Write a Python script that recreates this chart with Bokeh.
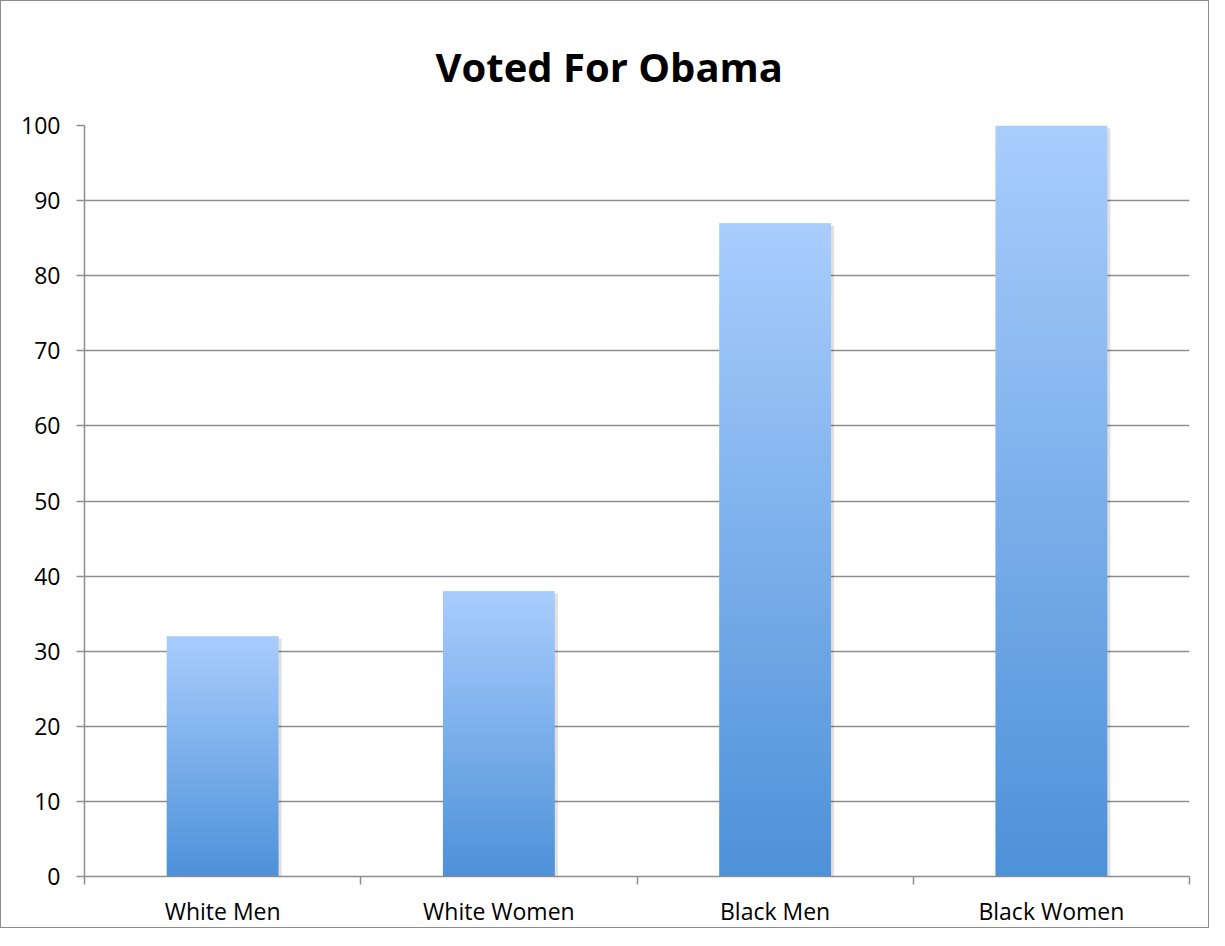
import numpy as np
from bokeh.plotting import figure
from bokeh.models import Range1d, FixedTicker
from bokeh.embed import file_html
from bokeh.resources import INLINE

# ---- data ----
categories = ["White Men", "White Women", "Black Men", "Black Women"]
values = [32, 38, 87, 100]
y_ticks = [0, 10, 20, 30, 40, 50, 60, 70, 80, 90, 100]
title_text = "Voted For Obama"

# ---- style ----
TOP_COLOR = (0xA9, 0xCD, 0xFD)
BOTTOM_COLOR = (0x4D, 0x91, 0xD8)
GRID = "#8e8e8e"
FONT = "Open Sans"
BAR_W = 0.405
ROWS = 400

centers = [i + 0.5 for i in range(len(categories))]

p = figure(
    width=1209, height=928,
    x_range=Range1d(0, len(categories)), y_range=Range1d(0, 100),
    output_backend="svg", toolbar_location=None,
    min_border_left=83, min_border_right=21, min_border_top=124, min_border_bottom=51,
    title=title_text,
)
p.styles = {"border": "1px solid #8c8c8c"}
p.outline_line_color = None
p.background_fill_color = "white"
p.border_fill_color = "white"

p.title.text_font = FONT
p.title.text_font_size = "40px"
p.title.text_font_style = "bold"
p.title.align = "left"
p.title.text_color = "black"
p.title.standoff = 64
p.title.offset = 351

# shadow
sl, sr, st = [], [], []
for c, v in zip(centers, values):
    sl.append(c - BAR_W / 2 + 0.006)
    sr.append(c + BAR_W / 2 + 0.011)
    st.append(v - 0.35)
p.quad(left=sl, right=sr, top=st, bottom=[0] * len(st), fill_color="#000000",
       fill_alpha=0.12, line_color=None)

# gradient (bottom row first = darkest)
t = (np.arange(ROWS) + 0.5) / ROWS
grad = np.zeros((ROWS, 1), dtype=np.uint32)
view = grad.view(dtype=np.uint8).reshape((ROWS, 1, 4))
for k in range(3):
    view[:, 0, k] = np.round(BOTTOM_COLOR[k] + (TOP_COLOR[k] - BOTTOM_COLOR[k]) * t).astype(np.uint8)
view[:, 0, 3] = 255

p.image_rgba(
    image=[grad] * len(values),
    x=[c - BAR_W / 2 for c in centers],
    y=[0] * len(values),
    dw=[BAR_W] * len(values),
    dh=values,
)

# y axis
p.yaxis.ticker = FixedTicker(ticks=y_ticks)
p.yaxis.major_tick_in = 0
p.yaxis.major_tick_out = 8
p.yaxis.minor_tick_line_color = None
p.yaxis.axis_line_color = GRID
p.yaxis.axis_line_width = 1.5
p.yaxis.major_tick_line_color = GRID
p.yaxis.major_tick_line_width = 1.5
p.yaxis.major_label_text_font = FONT
p.yaxis.major_label_text_font_size = "23px"
p.yaxis.major_label_text_color = "black"
p.yaxis.major_label_standoff = 16

# x axis: labels at centres, ticks at boundaries
p.xaxis.ticker = FixedTicker(ticks=centers, minor_ticks=list(range(len(categories) + 1)))
p.xaxis.major_label_overrides = {c: name for c, name in zip(centers, categories)}
p.xaxis.major_tick_line_color = None
p.xaxis.major_tick_in = 0
p.xaxis.major_tick_out = 0
p.xaxis.minor_tick_in = 0
p.xaxis.minor_tick_out = 8
p.xaxis.minor_tick_line_color = GRID
p.xaxis.minor_tick_line_width = 1.5
p.xaxis.axis_line_color = GRID
p.xaxis.axis_line_width = 1.5
p.xaxis.major_label_text_font = FONT
p.xaxis.major_label_text_font_size = "23px"
p.xaxis.major_label_text_color = "black"
p.xaxis.major_label_standoff = 10

p.xgrid.grid_line_color = None
p.ygrid.ticker = FixedTicker(ticks=y_ticks)
p.ygrid.grid_line_color = GRID
p.ygrid.grid_line_width = 1.5

open("out.html", "w").write(file_html(p, INLINE))
